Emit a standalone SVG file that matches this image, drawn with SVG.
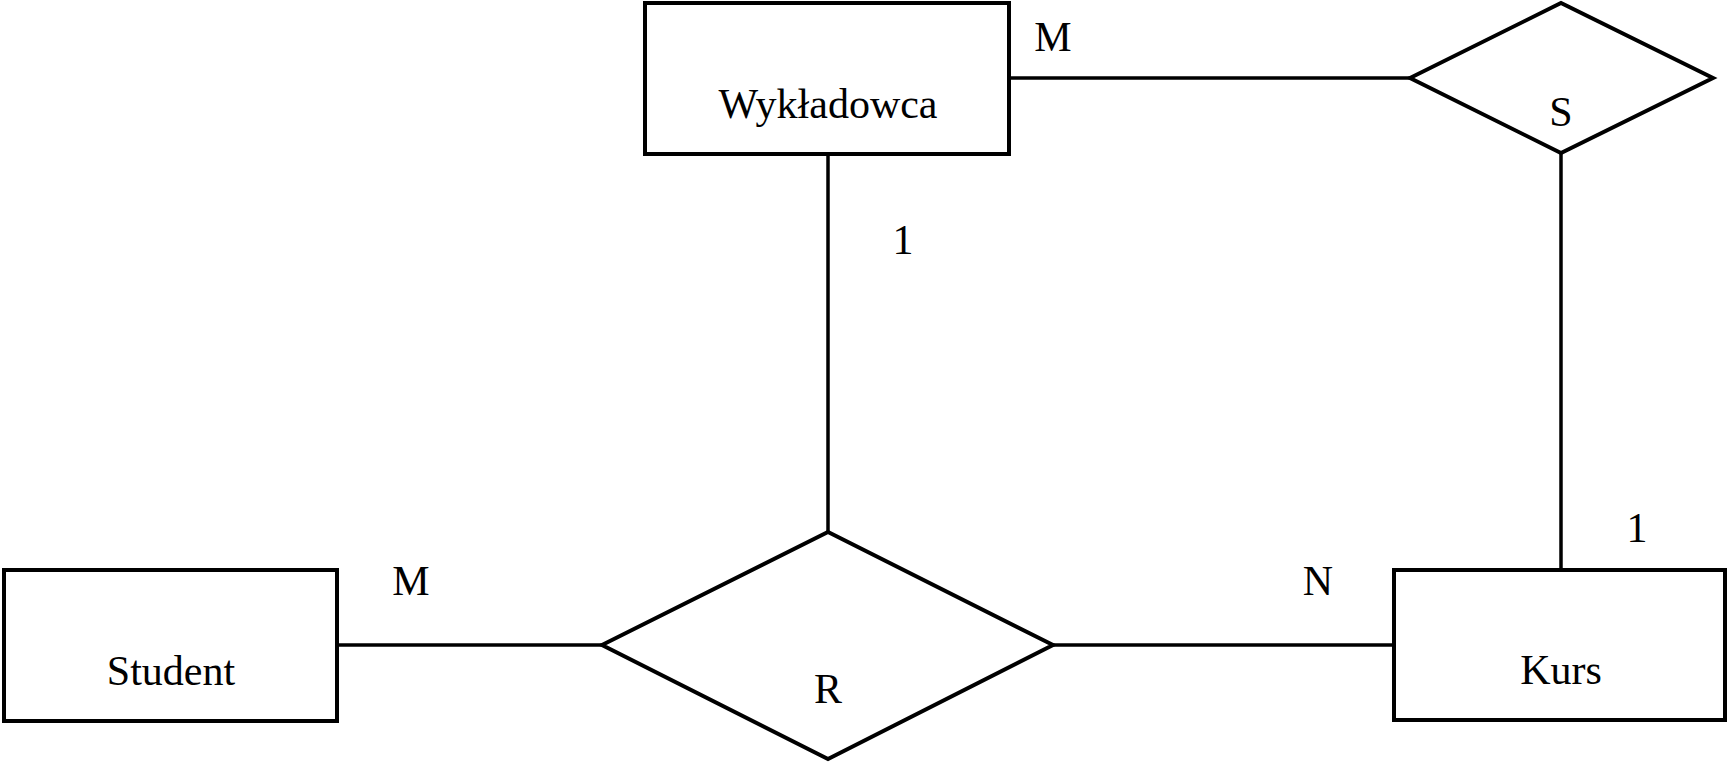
<svg xmlns="http://www.w3.org/2000/svg" width="1727" height="763" viewBox="0 0 1727 763">
<style>
.shape{fill:#fff;stroke:#000;stroke-width:4}
.conn{fill:none;stroke:#000;stroke-width:3.5}
text{font-family:"Liberation Serif","Times New Roman",serif;font-size:42px;fill:#000;text-anchor:middle}
</style>
<rect width="1727" height="763" fill="#fff"/>
<g id="connectors">
<line class="conn" x1="1009" y1="78" x2="1410" y2="78"/>
<line class="conn" x1="828" y1="154" x2="828" y2="532"/>
<line class="conn" x1="1561" y1="153" x2="1561" y2="570"/>
<line class="conn" x1="337" y1="645" x2="602" y2="645"/>
<line class="conn" x1="1053" y1="645" x2="1394" y2="645"/>
<text x="1053" y="51">M</text>
<text x="903" y="254">1</text>
<text x="411" y="595">M</text>
<text x="1318" y="595">N</text>
<text x="1637" y="542">1</text>
</g>
<g id="wykladowca">
<rect class="shape" x="645" y="3" width="364" height="151"/>
<text x="828" y="118">Wykładowca</text>
</g>
<g id="S">
<polygon class="shape" points="1410,78 1561,3 1713,78 1561,153"/>
<text x="1561" y="126">S</text>
</g>
<g id="student">
<rect class="shape" x="4" y="570" width="333" height="151"/>
<text x="171" y="685">Student</text>
</g>
<g id="R">
<polygon class="shape" points="602,645 828,532 1053,645 828,759"/>
<text x="828" y="703">R</text>
</g>
<g id="kurs">
<rect class="shape" x="1394" y="570" width="331" height="150"/>
<text x="1561" y="684">Kurs</text>
</g>
</svg>
